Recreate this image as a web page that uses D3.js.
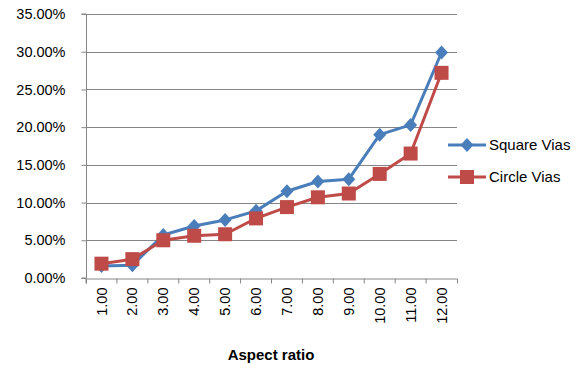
<!DOCTYPE html>
<html><head><meta charset="utf-8">
<script src="https://cdn.jsdelivr.net/npm/d3@7"></script>
<style>body{margin:0;background:#fff;} svg{display:block;}</style>
</head><body>
<svg id="c" width="581" height="369"></svg>
<script>
const categories = ["1.00","2.00","3.00","4.00","5.00","6.00","7.00","8.00","9.00","10.00","11.00","12.00"];
const squareVias = [1.6, 1.7, 5.7, 6.9, 7.7, 8.9, 11.5, 12.8, 13.1, 19.0, 20.3, 29.9];
const circleVias = [1.9, 2.5, 5.0, 5.6, 5.8, 7.9, 9.4, 10.7, 11.2, 13.8, 16.5, 27.2];
const yTicks = [0, 5, 10, 15, 20, 25, 30, 35];
const seriesNames = ["Square Vias", "Circle Vias"];
const colors = ["#4a7ebb", "#be4b48"];

const svg = d3.select("#c");
const font = "'Liberation Sans', Arial, sans-serif";
const x = d3.scaleBand().domain(categories).range([86, 457]);
const y = d3.scaleLinear().domain([0, 35]).range([278, 14]);

// gridlines
svg.append("g").selectAll("line").data(yTicks.slice(1)).join("line")
  .attr("x1", 86).attr("x2", 457)
  .attr("y1", d => Math.round(y(d)) + 0.5).attr("y2", d => Math.round(y(d)) + 0.5)
  .attr("stroke", "#868686").attr("stroke-width", 1);

// y axis
const yAxis = svg.append("g").attr("transform", "translate(86.5,0)")
  .call(d3.axisLeft(y).tickValues(yTicks).tickSize(5).tickFormat(d => d.toFixed(2) + "%"));
yAxis.select(".domain").attr("stroke", "#868686").attr("d", `M-5,${y(0)}H0V${y(35)}H-5`);
yAxis.selectAll(".tick line").attr("stroke", "#868686");
yAxis.selectAll(".tick text").attr("font-family", font).attr("font-size", 14.5).attr("fill", "#000").attr("x", -21);

// x axis
const xAxis = svg.append("g").attr("transform", `translate(0,${Math.round(y(0)) + 0.5})`)
  .call(d3.axisBottom(x).tickSize(5).tickSizeOuter(5));
xAxis.select(".domain").attr("stroke", "#868686");
xAxis.selectAll(".tick line").attr("stroke", "#868686").attr("transform", `translate(${-x.bandwidth()/2},0)`);
xAxis.selectAll(".tick text")
  .attr("font-family", font).attr("font-size", 14.5).attr("fill", "#000")
  .attr("transform", "rotate(-90)").attr("text-anchor", "end")
  .attr("x", -9).attr("y", 0).attr("dy", "0.35em");

// axis title
svg.append("text").attr("x", 271).attr("y", 360).attr("text-anchor", "middle")
  .attr("font-family", font).attr("font-size", 15).attr("font-weight", "bold").text("Aspect ratio");

const cx = c => x(c) + x.bandwidth() / 2;
const line = d3.line().x((d, i) => cx(categories[i])).y(d => y(d));
const data = [squareVias, circleVias];

function marker(g, type, px, py, color) {
  if (type === 0) {
    g.append("path").attr("d", "M0,-7L6.5,0L0,7L-6.5,0Z")
      .attr("transform", `translate(${px},${py})`).attr("fill", color);
  } else {
    g.append("rect").attr("x", px - 7).attr("y", py - 7).attr("width", 14).attr("height", 14)
      .attr("fill", color);
  }
}

data.forEach((vals, s) => {
  const g = svg.append("g");
  g.append("path").datum(vals).attr("d", line).attr("fill", "none")
    .attr("stroke", colors[s]).attr("stroke-width", 3).attr("stroke-linejoin", "round");
  vals.forEach((v, i) => marker(g, s, cx(categories[i]), y(v), colors[s]));
});

// legend
const legY = [145, 177];
seriesNames.forEach((n, s) => {
  const g = svg.append("g");
  g.append("line").attr("x1", 448).attr("x2", 486).attr("y1", legY[s]).attr("y2", legY[s])
    .attr("stroke", colors[s]).attr("stroke-width", 3);
  marker(g, s, 467, legY[s], colors[s]);
  g.append("text").attr("x", 489).attr("y", legY[s]).attr("dy", "0.35em")
    .attr("font-family", font).attr("font-size", 15).attr("fill", "#000").text(n);
});
</script>
</body></html>
